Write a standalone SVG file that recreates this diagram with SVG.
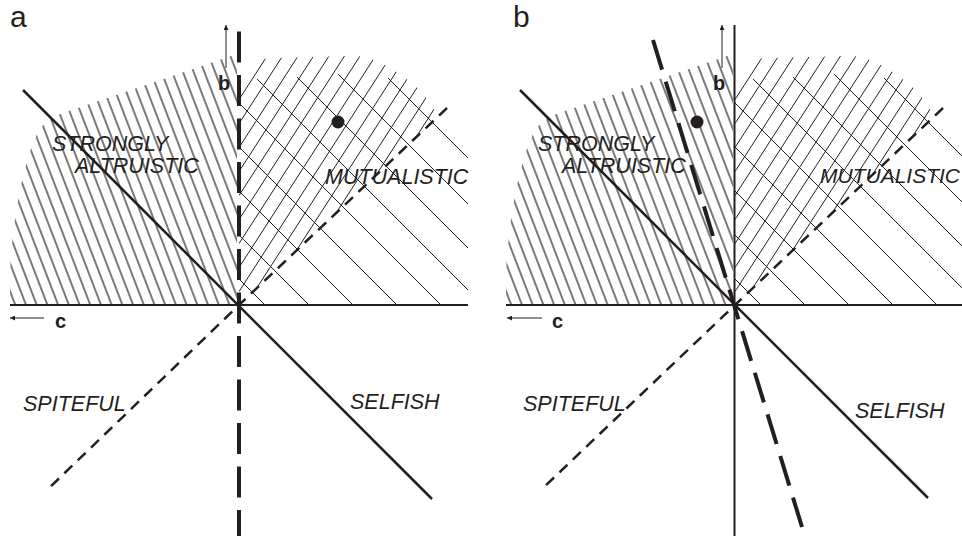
<svg xmlns="http://www.w3.org/2000/svg" width="962" height="536" viewBox="0 0 962 536">
<style>
.ln{stroke:#231f20;fill:none}
.axis{stroke-width:2}
.diag{stroke-width:2.5}
.sdash{stroke-width:2.5;stroke-dasharray:11 7.5}
.ldash{stroke-width:4;stroke-dasharray:31 12.5}
.hatch{stroke:#231f20;stroke-width:1;fill:none}
.thin{stroke:#231f20;stroke-width:1;fill:none}
.lbl{font-family:"Liberation Sans",Arial,sans-serif;font-style:italic;font-size:21.5px;fill:#231f20}
.ax{font-family:"Liberation Sans",Arial,sans-serif;font-weight:bold;font-size:20px;fill:#231f20}
.pn{font-family:"Liberation Sans",Arial,sans-serif;font-size:30px;fill:#231f20}
</style>
<defs>
<marker id="ah" viewBox="0 0 10 10" refX="10" refY="5" markerWidth="9" markerHeight="5" markerUnits="userSpaceOnUse" orient="auto"><path d="M0,0 L10,5 L0,10 Z" fill="#231f20"/></marker>
<pattern id="steep" patternUnits="userSpaceOnUse" width="10" height="20" patternTransform="rotate(-21)"><line x1="5" y1="-2" x2="5" y2="22" stroke="#231f20" stroke-width="1.2"/></pattern>
<clipPath id="clipSlash"><path d="M239,305 L239,94 L262,59 C275,57 300,58 345,56 C365,54 385,62 405,78 L420,90 L439,116 Z"/></clipPath>
<g id="hatchSet">
<path d="M10,305 L10,272 C13,220 22,165 38,132 C46,118 60,114 75,109 L237,54 L237,305 Z" fill="url(#steep)"/>
<path class="hatch" clip-path="url(#clipSlash)" d="M239,99.55 L450,-227.5 M239,123.55 L450,-203.5 M239,147.55 L450,-179.5 M239,171.55 L450,-155.5 M239,195.55 L450,-131.5 M239,219.55 L450,-107.5 M239,243.55 L450,-83.5 M239,267.55 L450,-59.5 M239,291.55 L450,-35.5 M239,315.55 L450,-11.5 M239,339.55 L450,12.5 M239,363.55 L450,36.5 M239,387.55 L450,60.5 M239,411.55 L450,84.5"/>
<path class="hatch" d="M239,279 L265,305 M239,235 L309,305 M239,191 L353,305 M239,147 L397,305 M239,103 L441,305 M257,79 L468,290 M297,77 L468,248 M338,74 L468,204 M388,78 L468,158"/>
</g>
</defs>

<g id="panel-a">
<use href="#hatchSet"/>
<line class="ln axis" x1="10" y1="305" x2="468" y2="305"/>
<line class="ln diag" x1="23" y1="90" x2="432" y2="499"/>
<path class="ln sdash" d="M447,108 L239,305 L47,490"/>
<path class="ln ldash" d="M239,541 L239,27"/>
<line class="thin" x1="226" y1="68" x2="226" y2="25" marker-end="url(#ah)"/>
<line class="thin" x1="44" y1="318" x2="10" y2="318" marker-end="url(#ah)"/>
<circle cx="338" cy="122" r="6.5" fill="#231f20"/>
<text class="pn" x="10" y="27">a</text>
<text class="ax" x="218" y="90">b</text>
<text class="ax" x="55" y="328">c</text>
<text class="lbl" x="52" y="151">STRONGLY</text>
<text class="lbl" x="75" y="173">ALTRUISTIC</text>
<text class="lbl" x="325" y="184">MUTUALISTIC</text>
<text class="lbl" x="23" y="411">SPITEFUL</text>
<text class="lbl" x="350" y="409">SELFISH</text>
</g>

<g id="panel-b">
<use href="#hatchSet" transform="translate(496,0)"/>
<line class="ln axis" x1="506" y1="305" x2="962" y2="305"/>
<line class="ln axis" x1="734.5" y1="25" x2="734.5" y2="536"/>
<line class="ln diag" x1="520" y1="90" x2="928" y2="498"/>
<path class="ln sdash" d="M943,108 L735,305 L543,488"/>
<path class="ln ldash" d="M653,40 L802,527"/>
<line class="thin" x1="722" y1="68" x2="722" y2="25" marker-end="url(#ah)"/>
<line class="thin" x1="542" y1="318" x2="507" y2="318" marker-end="url(#ah)"/>
<circle cx="697" cy="122" r="6.5" fill="#231f20"/>
<text class="pn" x="513" y="27">b</text>
<text class="ax" x="713" y="90">b</text>
<text class="ax" x="552" y="328">c</text>
<text class="lbl" x="538" y="151">STRONGLY</text>
<text class="lbl" x="562" y="173">ALTRUISTIC</text>
<text class="lbl" x="820" y="183" style="font-size:21px">MUTUALISTIC</text>
<text class="lbl" x="523" y="411">SPITEFUL</text>
<text class="lbl" x="855" y="418">SELFISH</text>
</g>
</svg>
